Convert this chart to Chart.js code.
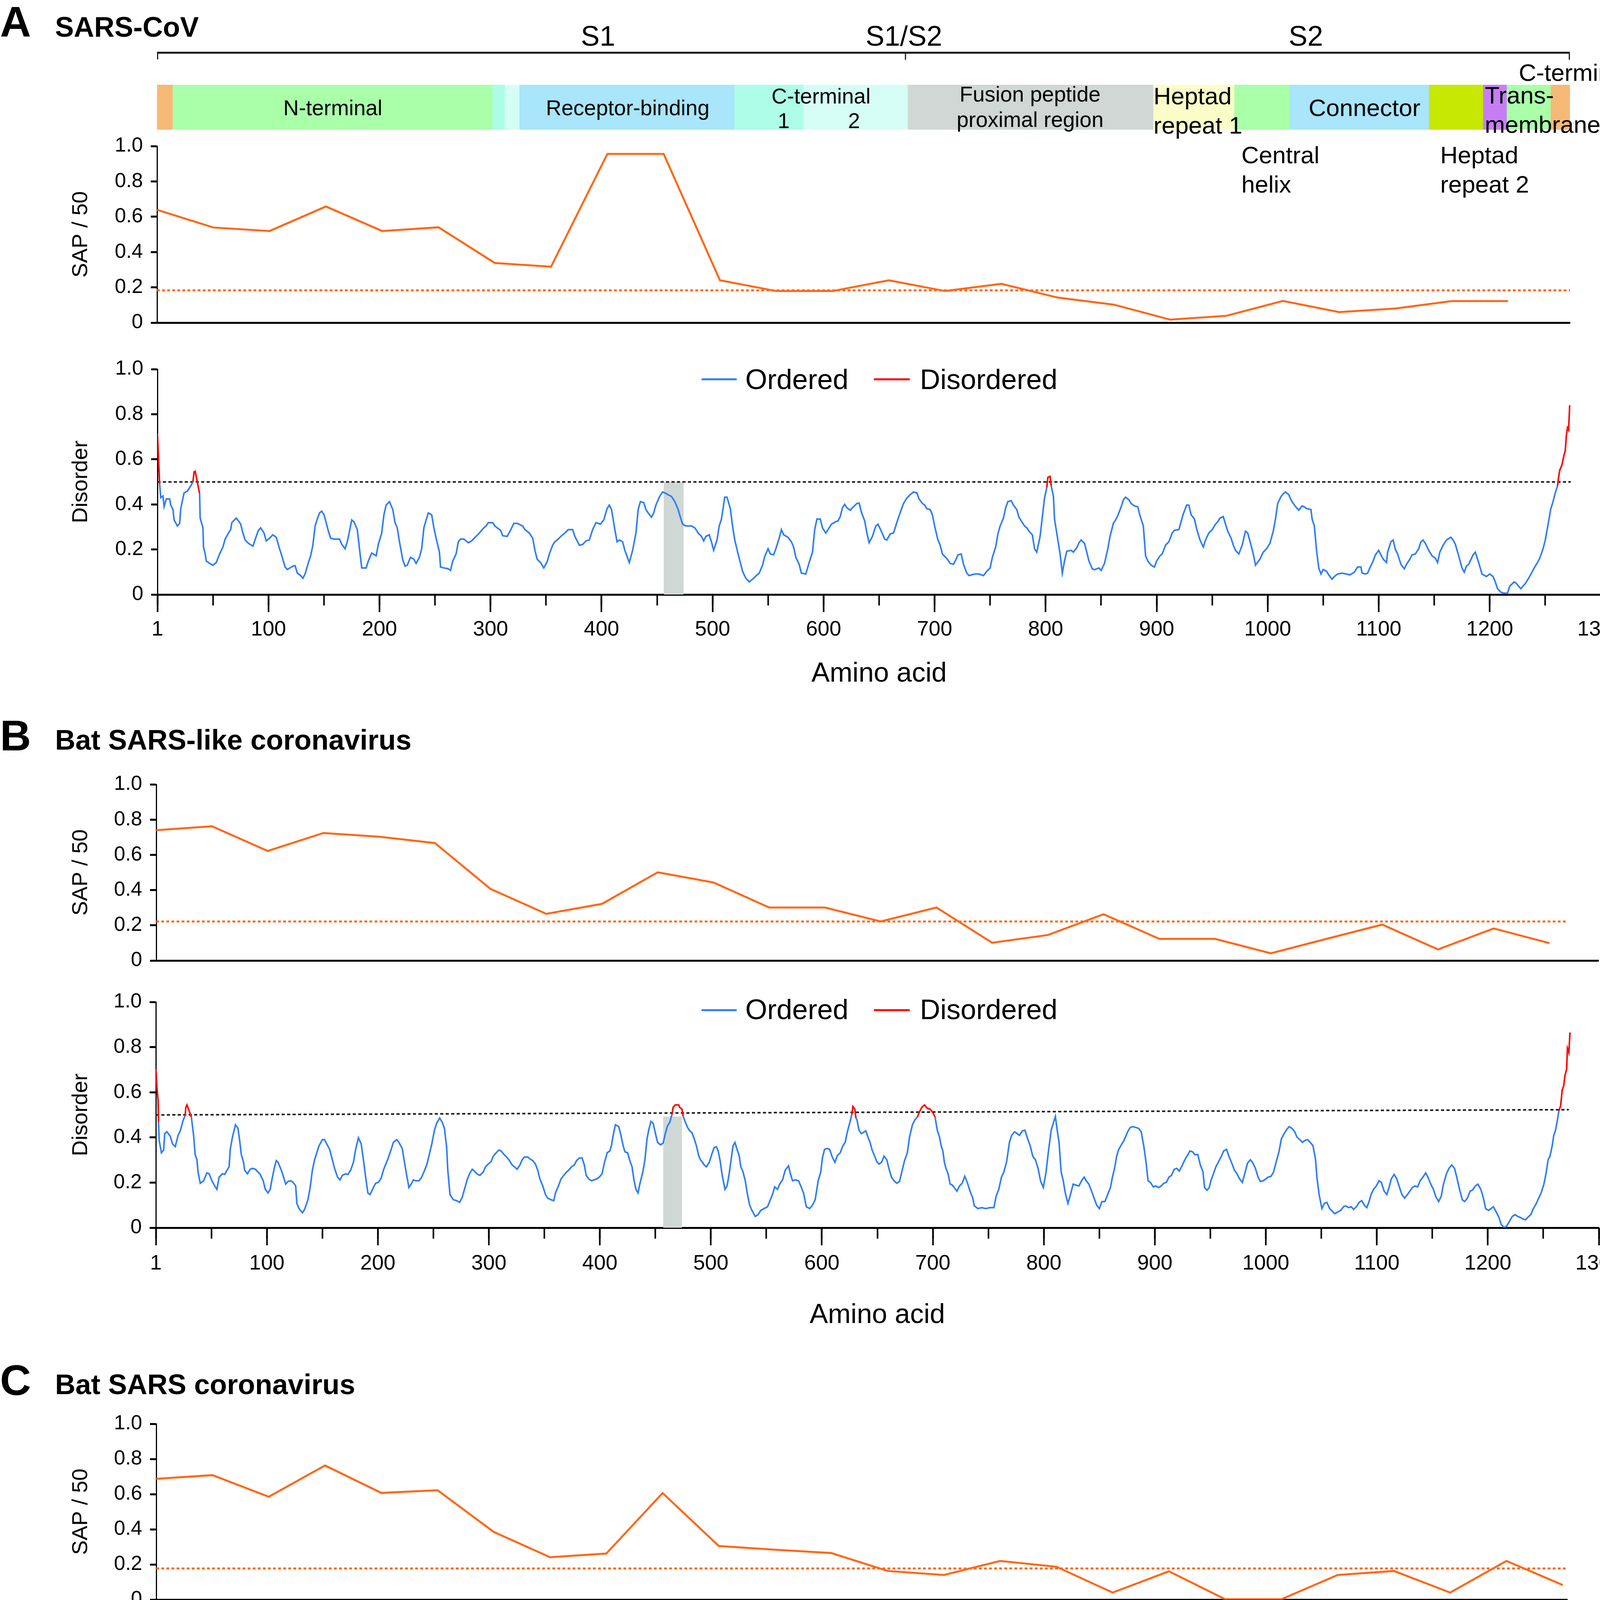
<!DOCTYPE html>
<html><head><meta charset="utf-8">
<script src="https://cdn.jsdelivr.net/npm/chart.js@4.4.1/dist/chart.umd.min.js"></script>
<style>
html,body{margin:0;padding:0;background:#fff;}
body{width:4180px;height:5009px;position:relative;overflow:hidden;font-family:"Liberation Sans",Arial,Helvetica,sans-serif;}
canvas{position:absolute;}
#ov{position:absolute;left:0;top:0;z-index:5;pointer-events:none;}
</style></head><body>
<canvas id="domains"></canvas>
<canvas id="sapA"></canvas>
<canvas id="disA"></canvas>
<canvas id="sapB"></canvas>
<canvas id="disB"></canvas>
<canvas id="sapC"></canvas>
<canvas id="disC"></canvas>
<svg id="ov" width="4180" height="5009" xmlns="http://www.w3.org/2000/svg" font-family="Liberation Sans, Arial, Helvetica, sans-serif" fill="#000">
  <line x1="402" y1="135" x2="4019" y2="135" stroke="#1a1a1a" stroke-width="5"/>
  <line x1="403.5" y1="135" x2="403.5" y2="152" stroke="#1a1a1a" stroke-width="3"/>
  <line x1="2318" y1="135" x2="2318" y2="153" stroke="#1a1a1a" stroke-width="3"/>
  <line x1="4017.5" y1="135" x2="4017.5" y2="153" stroke="#1a1a1a" stroke-width="3"/>
  <text x="1531" y="117" font-size="72" text-anchor="middle">S1</text>
  <text x="2314" y="117" font-size="72" text-anchor="middle">S1/S2</text>
  <text x="3343" y="117" font-size="72" text-anchor="middle">S2</text>

  <text x="0" y="93" font-size="110" font-weight="bold">A</text>
  <text x="141" y="94" font-size="72" font-weight="bold">SARS-CoV</text>
  <text x="0" y="1921" font-size="110" font-weight="bold">B</text>
  <text x="141" y="1919" font-size="72" font-weight="bold">Bat SARS-like coronavirus</text>
  <text x="0" y="3571" font-size="110" font-weight="bold">C</text>
  <text x="141" y="3569" font-size="72" font-weight="bold">Bat SARS coronavirus</text>

  <text x="852" y="295" font-size="55" text-anchor="middle">N-terminal</text>
  <text x="1607" y="295" font-size="55" text-anchor="middle">Receptor-binding</text>
  <text x="1975" y="265" font-size="55">C-terminal</text>
  <text x="1991" y="328" font-size="55">1</text>
  <text x="2171" y="328" font-size="55">2</text>
  <text x="2637" y="260" font-size="55" text-anchor="middle">Fusion peptide</text>
  <text x="2637" y="325" font-size="55" text-anchor="middle">proximal region</text>
  <text x="2953" y="267" font-size="62">Heptad</text>
  <text x="2953" y="342" font-size="62">repeat 1</text>
  <text x="3493" y="297" font-size="62" text-anchor="middle">Connector</text>
  <text x="3801" y="265" font-size="62">Trans-</text>
  <text x="3801" y="340" font-size="62">membrane</text>
  <text x="3888" y="207" font-size="62">C-terminal</text>
  <text x="3178" y="418" font-size="62">Central</text>
  <text x="3178" y="493" font-size="62">helix</text>
  <text x="3687" y="418" font-size="62">Heptad</text>
  <text x="3687" y="493" font-size="62">repeat 2</text>

  <rect x="1796" y="968.5" width="90" height="5" fill="#2f7ef5"/>
  <text x="1908" y="996" font-size="72">Ordered</text>
  <rect x="2237" y="968.5" width="92" height="5" fill="#ff0000"/>
  <text x="2355" y="996" font-size="72">Disordered</text>

  <rect x="1796" y="2583.5" width="90" height="5" fill="#2f7ef5"/>
  <text x="1908" y="2609" font-size="72">Ordered</text>
  <rect x="2237" y="2583.5" width="92" height="5" fill="#ff0000"/>
  <text x="2355" y="2609" font-size="72">Disordered</text>

  <rect x="1796" y="4247.5" width="90" height="5" fill="#2f7ef5"/>
  <text x="1908" y="4275" font-size="72">Ordered</text>
  <rect x="2237" y="4247.5" width="92" height="5" fill="#ff0000"/>
  <text x="2355" y="4275" font-size="72">Disordered</text>
</svg>
<script>
// ---------------- DATA ----------------
// Spike domain map (amino-acid boundaries) for panel A
const domainNames  = ['Signal','N-terminal','Linker a','Linker b','Receptor-binding','C-terminal 1','C-terminal 2','Fusion peptide proximal region','Heptad repeat 1','Central helix','Connector','Heptad repeat 2','Transmembrane a','Transmembrane b','C-terminal'];
const domainStart  = [0, 14, 298, 309, 322, 513, 574, 667, 885, 957, 1006, 1130, 1178, 1199, 1238];
const domainEnd    = [14, 298, 309, 322, 513, 574, 667, 885, 957, 1006, 1130, 1178, 1199, 1238, 1255];
const domainColors = ['#f6b975','#aaffa9','#acfde6','#d5fff5','#a9e5fb','#adfde8','#d5fdf5','#d0d7d5','#fafdc8','#aaffa9','#a9e5fb','#c6e802','#c67ef4','#aaffa9','#f6b975'];

// SAP / 50 windows (start residue of each 50-aa window)
const sapPosA = [0,50,100,150,200,250,300,350,400,450,500,550,600,650,700,750,800,850,900,950,1000,1050,1100,1150,1200];
const sapA    = [0.639,0.539,0.519,0.658,0.519,0.540,0.338,0.317,0.956,0.956,0.240,0.179,0.179,0.240,0.179,0.220,0.142,0.102,0.017,0.039,0.123,0.060,0.080,0.122,0.122];
const sapPosB = [0,50,100,150,200,250,300,350,400,450,500,550,600,650,700,750,800,850,900,950,1000,1050,1100,1150,1200,1250];
const sapB    = [0.740,0.762,0.622,0.724,0.703,0.667,0.406,0.265,0.322,0.501,0.443,0.301,0.301,0.222,0.301,0.101,0.145,0.263,0.123,0.123,0.041,0.123,0.204,0.063,0.182,0.099];
const sapPosC = [0,50,100,150,200,250,300,350,400,450,500,550,600,650,700,750,800,850,900,950,1000,1050,1100,1150,1200,1250];
const sapC    = [0.687,0.708,0.585,0.763,0.607,0.622,0.385,0.241,0.262,0.606,0.305,0.284,0.265,0.163,0.140,0.220,0.187,0.040,0.161,0.002,0.002,0.140,0.163,0.040,0.220,0.083];
const sapCutA = [[0,0.183],[1255,0.183]];
const sapCutB = [[0,0.222],[1266,0.222]];
const sapCutC = [[0,0.177],[1254,0.177]];
const sapMaxA = 1255, sapMaxB = 1294, sapMaxC = 1254;

// Disorder profiles [residue, score]
const disA = [[0,0.714],[2,0.49],[3,0.43],[5,0.437],[6,0.39],[8,0.424],[11,0.424],[12,0.397],[14,0.377],[15,0.331],[18,0.304],[20,0.316],[21,0.381],[24,0.451],[27,0.459],[30,0.482],[32,0.5],[33,0.544],[34,0.547],[36,0.497],[38,0.447],[38.5,0.339],[41,0.296],[41.5,0.211],[43,0.18],[44,0.149],[47,0.138],[50,0.13],[53,0.142],[56,0.18],[59,0.211],[61,0.246],[64,0.273],[66,0.288],[67,0.319],[71,0.339],[74,0.32],[75,0.312],[77,0.273],[79,0.242],[82,0.227],[86,0.215],[89,0.258],[91,0.285],[93,0.296],[96,0.273],[98,0.238],[101,0.25],[104,0.265],[107,0.254],[110,0.203],[112,0.172],[115,0.122],[117,0.111],[122,0.126],[124,0.128],[126,0.095],[129,0.084],[131,0.072],[133,0.091],[136,0.142],[138,0.172],[140,0.219],[142,0.304],[144,0.335],[146,0.362],[148,0.37],[150,0.354],[152,0.319],[154,0.281],[156,0.25],[159,0.246],[164,0.246],[166,0.223],[169,0.203],[171,0.234],[173,0.281],[175,0.331],[177,0.323],[180,0.288],[182,0.203],[184,0.118],[188,0.118],[190,0.149],[193,0.184],[197,0.172],[199,0.223],[202,0.273],[204,0.354],[206,0.397],[209,0.412],[212,0.377],[214,0.319],[216,0.296],[218,0.234],[221,0.153],[223,0.126],[225,0.13],[228,0.165],[231,0.157],[233,0.138],[236,0.165],[238,0.203],[240,0.296],[242,0.331],[244,0.362],[247,0.354],[249,0.296],[251,0.25],[254,0.188],[255,0.122],[258,0.118],[262,0.114],[264,0.107],[266,0.149],[269,0.18],[271,0.234],[273,0.246],[276,0.246],[280,0.23],[283,0.238],[287,0.258],[290,0.273],[294,0.296],[296,0.304],[298,0.319],[302,0.319],[304,0.304],[306,0.296],[309,0.285],[311,0.261],[315,0.258],[318,0.285],[321,0.316],[324,0.316],[329,0.304],[331,0.288],[335,0.273],[338,0.25],[340,0.196],[342,0.157],[345,0.142],[348,0.118],[351,0.145],[353,0.18],[356,0.219],[358,0.234],[361,0.246],[364,0.261],[367,0.273],[370,0.288],[374,0.288],[376,0.258],[380,0.219],[383,0.222],[386,0.238],[389,0.242],[392,0.288],[395,0.319],[399,0.312],[402,0.331],[405,0.381],[407,0.397],[409,0.377],[412,0.288],[414,0.234],[416,0.242],[419,0.234],[421,0.196],[425,0.142],[428,0.196],[431,0.273],[433,0.377],[435,0.412],[438,0.408],[440,0.377],[442,0.362],[445,0.343],[447,0.362],[449,0.397],[452,0.432],[455,0.455],[457,0.451],[460,0.443],[463,0.435],[466,0.412],[469,0.377],[471,0.343],[473,0.312],[476,0.304],[481,0.304],[484,0.296],[487,0.273],[490,0.258],[492,0.238],[494,0.258],[497,0.265],[499,0.234],[501,0.196],[504,0.242],[506,0.304],[508,0.335],[511,0.432],[513,0.432],[516,0.381],[518,0.304],[520,0.242],[523,0.18],[525,0.142],[527,0.103],[530,0.072],[533,0.056],[537,0.072],[540,0.087],[542,0.095],[545,0.13],[547,0.169],[550,0.203],[552,0.18],[555,0.176],[557,0.203],[560,0.25],[562,0.288],[564,0.265],[568,0.254],[571,0.234],[573,0.211],[575,0.165],[578,0.134],[580,0.095],[584,0.091],[587,0.142],[590,0.188],[592,0.288],[594,0.335],[597,0.335],[599,0.296],[602,0.273],[605,0.296],[607,0.312],[611,0.323],[613,0.327],[615,0.346],[617,0.385],[619,0.4],[621,0.385],[624,0.374],[626,0.385],[630,0.404],[632,0.406],[634,0.366],[637,0.327],[639,0.273],[641,0.23],[644,0.258],[647,0.304],[649,0.312],[652,0.281],[655,0.246],[657,0.242],[660,0.269],[663,0.273],[665,0.304],[667,0.335],[670,0.377],[672,0.404],[675,0.428],[678,0.443],[681,0.455],[684,0.451],[686,0.424],[689,0.404],[691,0.397],[693,0.381],[696,0.377],[698,0.354],[700,0.304],[703,0.242],[705,0.219],[707,0.18],[710,0.165],[712,0.153],[714,0.138],[717,0.134],[719,0.153],[721,0.176],[724,0.18],[726,0.134],[729,0.095],[731,0.084],[736,0.091],[740,0.091],[744,0.084],[747,0.103],[750,0.118],[752,0.165],[755,0.211],[757,0.269],[759,0.304],[762,0.339],[764,0.385],[766,0.412],[769,0.416],[771,0.397],[774,0.377],[776,0.343],[778,0.327],[781,0.304],[783,0.296],[785,0.281],[788,0.265],[790,0.203],[792,0.188],[795,0.258],[797,0.343],[799,0.428],[801,0.474],[802,0.52],[804,0.524],[805,0.482],[807,0.435],[808,0.335],[810,0.273],[813,0.18],[815,0.095],[817,0.149],[819,0.192],[823,0.196],[825,0.188],[828,0.207],[830,0.23],[832,0.242],[835,0.227],[837,0.188],[839,0.149],[842,0.114],[844,0.11],[848,0.118],[850,0.107],[853,0.138],[856,0.203],[858,0.258],[861,0.316],[863,0.331],[865,0.35],[868,0.389],[870,0.42],[872,0.432],[875,0.42],[877,0.404],[880,0.393],[883,0.389],[885,0.35],[888,0.304],[890,0.172],[892,0.149],[895,0.13],[898,0.122],[900,0.149],[903,0.172],[905,0.18],[908,0.219],[911,0.234],[914,0.273],[916,0.285],[920,0.288],[922,0.323],[924,0.358],[927,0.397],[929,0.397],[931,0.354],[934,0.335],[936,0.292],[939,0.242],[942,0.211],[944,0.242],[947,0.273],[950,0.288],[953,0.312],[955,0.323],[957,0.339],[960,0.346],[962,0.312],[964,0.281],[967,0.25],[969,0.219],[971,0.196],[974,0.18],[977,0.219],[980,0.281],[982,0.273],[985,0.219],[987,0.18],[989,0.13],[993,0.157],[996,0.188],[999,0.203],[1002,0.227],[1005,0.281],[1007,0.335],[1009,0.404],[1012,0.435],[1014,0.447],[1016,0.455],[1019,0.443],[1021,0.42],[1023,0.404],[1026,0.385],[1028,0.374],[1031,0.393],[1033,0.389],[1035,0.381],[1039,0.377],[1040,0.335],[1042,0.304],[1044,0.196],[1046,0.118],[1048,0.091],[1050,0.111],[1053,0.103],[1055,0.087],[1058,0.068],[1060,0.08],[1063,0.091],[1067,0.095],[1071,0.091],[1074,0.087],[1078,0.099],[1081,0.122],[1084,0.122],[1085,0.095],[1088,0.091],[1090,0.095],[1092,0.118],[1095,0.149],[1097,0.176],[1100,0.196],[1102,0.176],[1104,0.157],[1107,0.142],[1108,0.188],[1111,0.234],[1113,0.242],[1115,0.2],[1117,0.18],[1120,0.134],[1123,0.114],[1125,0.134],[1128,0.157],[1130,0.176],[1133,0.18],[1136,0.203],[1138,0.234],[1140,0.242],[1142,0.227],[1145,0.196],[1148,0.172],[1151,0.161],[1153,0.142],[1155,0.188],[1158,0.219],[1161,0.242],[1165,0.254],[1167,0.242],[1169,0.223],[1172,0.172],[1175,0.118],[1177,0.099],[1179,0.126],[1181,0.134],[1185,0.176],[1187,0.188],[1190,0.142],[1193,0.091],[1197,0.08],[1200,0.091],[1203,0.08],[1205,0.056],[1207,0.026],[1210,0.01],[1213,0.006],[1216,0.006],[1218,0.037],[1222,0.056],[1224,0.049],[1226,0.037],[1228,0.026],[1232,0.049],[1235,0.072],[1238,0.099],[1240,0.118],[1243,0.142],[1245,0.161],[1248,0.203],[1250,0.242],[1252,0.296],[1255,0.381],[1257,0.412],[1259,0.451],[1261,0.482],[1262,0.52],[1263,0.551],[1265,0.575],[1267,0.621],[1268,0.637],[1269,0.706],[1270,0.74],[1271,0.73],[1272,0.84]];

const disB = [[0,0.703],[1,0.62],[2,0.564],[2.4,0.467],[3,0.386],[5,0.332],[7,0.344],[8,0.417],[10,0.425],[13,0.405],[15,0.371],[17.5,0.359],[20,0.409],[22,0.429],[24.5,0.475],[26.4,0.498],[27,0.533],[28,0.544],[30,0.517],[32,0.49],[33,0.448],[34,0.409],[35.4,0.324],[37,0.301],[38,0.247],[40,0.197],[43,0.208],[46,0.243],[48,0.239],[50.5,0.208],[53,0.185],[55,0.17],[57,0.224],[60,0.239],[62,0.236],[64.6,0.259],[66,0.27],[67,0.347],[69,0.401],[71.7,0.456],[74,0.44],[75.5,0.386],[77,0.324],[79,0.29],[80,0.255],[82.5,0.239],[85,0.259],[87,0.263],[89.6,0.259],[92,0.247],[94,0.236],[96.7,0.208],[98.6,0.17],[101,0.154],[103,0.17],[104.7,0.216],[107,0.27],[108.5,0.297],[110,0.29],[112.7,0.259],[114.6,0.232],[117,0.193],[119,0.205],[121.7,0.208],[123.6,0.201],[126,0.185],[127,0.108],[129,0.085],[132,0.066],[134,0.081],[137,0.124],[139,0.178],[141,0.255],[143,0.301],[145,0.332],[147,0.363],[150,0.39],[152,0.39],[154,0.371],[156.6,0.347],[159,0.301],[161,0.263],[163.7,0.224],[166,0.212],[168,0.232],[171,0.239],[173,0.236],[175.5,0.255],[178,0.29],[180,0.347],[182.5,0.398],[185,0.371],[187,0.301],[189,0.224],[191,0.154],[193,0.147],[196,0.178],[198,0.197],[200.5,0.201],[203,0.22],[205,0.255],[207.5,0.286],[209.4,0.309],[212,0.347],[214,0.378],[217,0.39],[219,0.378],[222,0.351],[223.6,0.301],[226,0.232],[228,0.178],[230,0.193],[232,0.212],[234,0.208],[237,0.208],[239,0.22],[241.5,0.247],[244,0.278],[246,0.317],[248.6,0.371],[251,0.432],[253,0.463],[255.7,0.486],[258,0.467],[260,0.44],[262,0.355],[263,0.255],[265,0.147],[268,0.124],[271,0.12],[273.6,0.112],[276,0.135],[278,0.17],[280.7,0.216],[283,0.243],[285,0.259],[287.7,0.247],[290,0.236],[292,0.232],[295,0.247],[297,0.27],[299.5,0.282],[302,0.293],[304,0.317],[306.6,0.332],[309,0.344],[311,0.34],[313.7,0.324],[316,0.313],[318,0.301],[321,0.278],[323,0.27],[325.5,0.259],[328,0.278],[330,0.301],[332,0.313],[335,0.313],[337,0.305],[339.6,0.297],[342,0.282],[344,0.255],[346,0.216],[348.6,0.185],[351,0.147],[353,0.131],[356,0.124],[358.5,0.12],[360,0.154],[362.7,0.185],[365,0.216],[367.5,0.232],[370,0.247],[372,0.255],[374.5,0.27],[377,0.278],[379,0.297],[381.6,0.309],[384,0.309],[386,0.278],[387.7,0.232],[390,0.216],[392.5,0.208],[395,0.212],[397,0.216],[399.5,0.224],[402,0.239],[404,0.286],[406.6,0.332],[409,0.34],[410.4,0.363],[412,0.409],[414,0.456],[417,0.448],[419,0.409],[421,0.363],[422.6,0.336],[425,0.332],[427,0.297],[429,0.27],[430.7,0.212],[432.5,0.17],[434.4,0.154],[436,0.193],[438.7,0.247],[440.6,0.301],[442.5,0.394],[444,0.432],[446,0.471],[448,0.463],[450.5,0.409],[452,0.378],[454.7,0.367],[457,0.375],[459,0.417],[461,0.452],[463,0.467],[465,0.502],[466,0.533],[468,0.544],[471,0.544],[472,0.533],[474,0.525],[475,0.494],[477.4,0.463],[479,0.444],[481,0.429],[483,0.421],[485,0.394],[487,0.363],[489,0.32],[490.6,0.301],[492.5,0.29],[494,0.278],[496,0.27],[498.6,0.29],[501,0.328],[503,0.355],[505,0.359],[506.6,0.34],[508.5,0.293],[510,0.239],[512.7,0.17],[514.6,0.185],[516.5,0.239],[518,0.293],[520,0.363],[521.7,0.378],[523.6,0.347],[525.5,0.32],[527,0.27],[529,0.247],[531,0.208],[533,0.147],[535,0.1],[537,0.077],[540,0.05],[542.5,0.058],[545,0.077],[548,0.085],[551,0.093],[553,0.116],[556,0.154],[557.5,0.181],[560,0.17],[562,0.193],[564.6,0.212],[567,0.255],[570,0.274],[571.7,0.239],[573.6,0.208],[576,0.212],[579,0.208],[581,0.185],[583.5,0.154],[586,0.093],[589,0.085],[591.5,0.1],[594,0.124],[596.7,0.208],[599,0.247],[600.5,0.309],[602.4,0.347],[604.7,0.351],[607,0.347],[609.4,0.313],[611.8,0.29],[614,0.32],[616.5,0.332],[619,0.363],[621,0.378],[623,0.425],[625.5,0.471],[627,0.502],[628,0.537],[629.7,0.525],[630.7,0.486],[631.6,0.479],[633.5,0.432],[635.4,0.417],[637,0.421],[639.6,0.429],[641.5,0.402],[643.4,0.378],[645.3,0.344],[647.6,0.317],[649.5,0.293],[651.4,0.282],[653.8,0.29],[656,0.317],[658.5,0.301],[660.4,0.263],[662.7,0.224],[665,0.208],[667.5,0.197],[670,0.205],[672,0.247],[674.5,0.297],[677,0.332],[679,0.402],[681.6,0.456],[684,0.479],[686,0.49],[688,0.514],[690,0.533],[692.5,0.544],[695,0.529],[697.6,0.525],[700,0.51],[702,0.49],[704,0.432],[706,0.402],[707.5,0.363],[709,0.34],[710.4,0.29],[711.8,0.263],[713.7,0.239],[715.6,0.193],[717.5,0.189],[719.3,0.178],[721.7,0.162],[724,0.185],[726.4,0.197],[728.8,0.228],[731,0.201],[733.5,0.162],[736,0.131],[737.3,0.097],[740.6,0.085],[744,0.089],[747.6,0.085],[751.4,0.089],[755,0.089],[757,0.139],[759.4,0.17],[761.8,0.224],[764,0.247],[766.5,0.293],[769,0.378],[771,0.409],[773.6,0.425],[776,0.417],[778,0.409],[780.7,0.429],[783,0.432],[785.4,0.394],[787.7,0.363],[790,0.317],[792.4,0.301],[794.8,0.263],[797,0.208],[799.5,0.178],[802,0.247],[804,0.332],[806.6,0.432],[809,0.471],[810.4,0.493],[811.8,0.44],[813.7,0.378],[815.6,0.247],[817.5,0.208],[819.3,0.154],[821.7,0.108],[824,0.147],[826.4,0.193],[828.8,0.189],[831.6,0.185],[834,0.208],[836.3,0.224],[838.2,0.208],[840.6,0.193],[843,0.162],[845.3,0.131],[847.6,0.1],[850,0.085],[852.4,0.116],[855,0.116],[857.5,0.147],[860,0.178],[861.8,0.224],[863.7,0.263],[865.6,0.317],[867.5,0.347],[869.3,0.363],[871.7,0.382],[873.6,0.402],[875.5,0.425],[877.8,0.444],[880,0.448],[883,0.444],[885.4,0.44],[887.7,0.425],[890,0.363],[892,0.293],[893.9,0.208],[896,0.201],[898.6,0.181],[901,0.185],[903.3,0.178],[905.7,0.185],[908,0.197],[910.4,0.201],[912.7,0.224],[915,0.232],[917.5,0.259],[919.8,0.263],[922,0.251],[924.5,0.274],[927,0.301],[929,0.317],[931.6,0.34],[934,0.336],[936,0.324],[938.7,0.324],[941,0.278],[943.4,0.247],[944.8,0.178],[947,0.166],[949,0.178],[950.5,0.208],[952.8,0.239],[955,0.27],[957.5,0.293],[960,0.317],[962,0.34],[964.6,0.347],[967,0.313],[969,0.29],[971.7,0.255],[974,0.239],[976.4,0.216],[978.8,0.201],[981,0.239],[983.5,0.286],[986,0.301],[988,0.29],[990.6,0.263],[993,0.224],[995,0.205],[997.6,0.208],[1000,0.216],[1002,0.224],[1004.7,0.228],[1007,0.247],[1009.4,0.293],[1011.8,0.336],[1014,0.394],[1016.5,0.417],[1019,0.436],[1021,0.448],[1023.6,0.44],[1026,0.425],[1028,0.402],[1030.7,0.39],[1033,0.378],[1035,0.386],[1037.7,0.39],[1040,0.378],[1042.5,0.363],[1044.8,0.301],[1046,0.224],[1048,0.147],[1050.5,0.085],[1052.8,0.108],[1055,0.112],[1057.5,0.085],[1060,0.073],[1062,0.062],[1065,0.07],[1067.5,0.077],[1070,0.093],[1072,0.097],[1074.5,0.089],[1077,0.093],[1079,0.081],[1081.6,0.093],[1084,0.112],[1086.4,0.12],[1088.7,0.1],[1091,0.089],[1093,0.116],[1094.8,0.147],[1097,0.17],[1099.5,0.185],[1102,0.208],[1104,0.201],[1106.6,0.162],[1109,0.147],[1111,0.178],[1113,0.216],[1115.6,0.236],[1118,0.216],[1120,0.185],[1122.6,0.147],[1125,0.131],[1127,0.143],[1129.7,0.162],[1132,0.178],[1134.4,0.185],[1136.8,0.181],[1139,0.208],[1141.5,0.224],[1144,0.243],[1146,0.224],[1148.6,0.193],[1151,0.17],[1153,0.139],[1155.7,0.116],[1158,0.139],[1160,0.193],[1162.7,0.239],[1165,0.263],[1167.5,0.278],[1170,0.263],[1172,0.224],[1174.5,0.17],[1177,0.124],[1179,0.116],[1181.6,0.131],[1184,0.162],[1186,0.166],[1188.7,0.185],[1191,0.193],[1193.7,0.17],[1196,0.131],[1198,0.085],[1200.5,0.077],[1203,0.085],[1205,0.093],[1207.5,0.07],[1210,0.046],[1212,0.015],[1215,0.0],[1217,0.008],[1219.8,0.031],[1222,0.05],[1224.5,0.058],[1227,0.05],[1229,0.046],[1231.6,0.039],[1234,0.035],[1236,0.046],[1238.7,0.058],[1241,0.085],[1243.4,0.104],[1245.8,0.131],[1248,0.154],[1250.5,0.193],[1252.4,0.239],[1254.3,0.301],[1256,0.317],[1258,0.363],[1259.4,0.409],[1261,0.432],[1263,0.486],[1264,0.517],[1265.6,0.541],[1267,0.61],[1268.4,0.629],[1269.4,0.672],[1271,0.703],[1271.7,0.795],[1273,0.776],[1274,0.865]];

const disC = [[0,0.851],[2,0.724],[3.3,0.608],[4.7,0.515],[5.7,0.476],[6.6,0.523],[7,0.461],[7.5,0.453],[8.5,0.484],[10.4,0.48],[12,0.461],[13.7,0.438],[16,0.407],[17.5,0.384],[19,0.372],[21,0.411],[23.6,0.434],[25.5,0.449],[27.4,0.43],[29,0.419],[31,0.407],[33.5,0.415],[35.4,0.411],[37,0.376],[38,0.353],[39.6,0.307],[41,0.276],[42.5,0.237],[44.3,0.175],[46,0.141],[48,0.16],[50.5,0.191],[53,0.21],[55,0.214],[57.5,0.229],[60,0.241],[62,0.268],[64,0.314],[66,0.326],[68.4,0.337],[70.8,0.326],[73,0.295],[75,0.253],[77.4,0.229],[79,0.21],[81.6,0.198],[84,0.225],[86.8,0.229],[89.6,0.233],[92,0.268],[94.3,0.287],[96.7,0.283],[99,0.229],[101.4,0.198],[103.8,0.225],[106,0.253],[108,0.268],[110,0.245],[111.8,0.191],[114,0.144],[116.5,0.125],[119,0.121],[121.7,0.117],[124,0.121],[126,0.094],[128,0.083],[130.7,0.071],[133,0.067],[135.4,0.083],[137.7,0.094],[139.6,0.144],[141.5,0.175],[143,0.229],[144.8,0.283],[146.7,0.326],[148.6,0.334],[150.5,0.291],[152.8,0.268],[155,0.253],[157.5,0.229],[160,0.214],[162,0.218],[164.6,0.229],[167,0.233],[169,0.222],[171.7,0.245],[173.6,0.307],[175.5,0.361],[177.8,0.368],[180,0.33],[182,0.268],[184,0.16],[186,0.137],[188,0.133],[190.5,0.16],[193,0.198],[195,0.222],[197.6,0.214],[200,0.229],[202,0.253],[204.7,0.283],[207,0.307],[209.4,0.326],[211.8,0.334],[214,0.326],[216.5,0.299],[219,0.26],[220.7,0.206],[222.6,0.175],[225,0.168],[227.4,0.202],[229.7,0.245],[232,0.225],[234.4,0.218],[236.8,0.229],[239,0.253],[240.6,0.307],[242.5,0.337],[244.8,0.361],[247,0.368],[249,0.353],[251,0.307],[253.3,0.253],[255.7,0.198],[257.5,0.133],[260,0.125],[262.7,0.114],[265,0.106],[267.5,0.137],[270,0.168],[272,0.214],[274.5,0.237],[276.4,0.253],[279,0.245],[281,0.237],[283.5,0.245],[285.8,0.26],[288.7,0.28],[291,0.287],[293.4,0.283],[295.8,0.307],[298,0.322],[300.5,0.33],[302.8,0.314],[305,0.299],[307.5,0.295],[310,0.287],[312,0.276],[314.6,0.268],[317,0.276],[319.3,0.291],[321.7,0.314],[324,0.318],[326.4,0.314],[328.8,0.31],[331,0.314],[333.5,0.303],[336,0.276],[338,0.237],[340.6,0.191],[342,0.137],[344,0.129],[346.7,0.125],[349,0.121],[351.4,0.125],[353.8,0.16],[356,0.195],[358.5,0.222],[361,0.237],[363,0.245],[365.6,0.26],[368,0.272],[370,0.283],[372.6,0.291],[375,0.299],[377.4,0.287],[379.7,0.253],[382,0.21],[384.4,0.206],[386.8,0.222],[389,0.229],[391.5,0.245],[394,0.26],[396,0.283],[398,0.31],[400.5,0.303],[402.8,0.322],[404.7,0.353],[406.6,0.384],[409,0.376],[411,0.314],[413,0.268],[415,0.214],[417.5,0.229],[420,0.253],[422,0.229],[424,0.191],[426,0.152],[428,0.144],[430,0.175],[432,0.214],[434,0.314],[436,0.376],[438,0.411],[440.6,0.403],[442.5,0.368],[444.3,0.349],[446,0.341],[448,0.376],[450,0.415],[452,0.449],[453.8,0.473],[456,0.492],[458.5,0.49],[459,0.505],[459.4,0.515],[460,0.488],[461.3,0.48],[463,0.473],[465.6,0.465],[468,0.473],[470,0.457],[472.6,0.453],[475,0.43],[477.4,0.399],[479,0.368],[481,0.345],[483,0.33],[485,0.307],[487,0.28],[489,0.268],[490.6,0.272],[492.5,0.283],[494,0.299],[496,0.31],[498,0.283],[500,0.229],[502,0.183],[504,0.125],[505.7,0.175],[507.5,0.229],[509.4,0.283],[511,0.353],[513,0.372],[515,0.345],[517,0.307],[519,0.268],[521,0.229],[523.6,0.198],[525.5,0.144],[527,0.098],[529,0.083],[531.6,0.071],[534,0.067],[536,0.079],[538.7,0.086],[541.5,0.102],[544,0.11],[546.7,0.137],[548.6,0.16],[550.5,0.195],[553,0.191],[555,0.16],[557.5,0.183],[560,0.229],[562,0.283],[564.6,0.276],[567,0.253],[569,0.249],[572,0.237],[574,0.214],[576.4,0.179],[578.8,0.125],[581,0.098],[583.5,0.086],[586,0.106],[588,0.144],[590.6,0.198],[593,0.276],[595.3,0.326],[597.6,0.353],[599,0.355],[600,0.323],[602,0.288],[603.8,0.269],[606,0.284],[608.5,0.319],[610.8,0.33],[613,0.342],[615.6,0.358],[618,0.415],[620,0.439],[622.6,0.45],[625,0.423],[627.3,0.4],[629.7,0.408],[632,0.412],[634.4,0.392],[636.8,0.35],[639,0.307],[641.5,0.261],[643.8,0.222],[646,0.246],[648.5,0.269],[651,0.288],[653,0.261],[655.6,0.242],[658,0.246],[660,0.257],[662.7,0.261],[665,0.276],[667.4,0.307],[669.7,0.361],[672,0.392],[674.5,0.415],[676.8,0.439],[679,0.454],[681.5,0.462],[684,0.462],[686,0.45],[688.6,0.415],[691,0.385],[693,0.381],[695.7,0.385],[698,0.377],[700.4,0.354],[702.7,0.315],[705,0.269],[707.4,0.215],[709.8,0.172],[712,0.157],[714.5,0.149],[716.9,0.134],[719,0.142],[721.6,0.153],[724,0.172],[726.3,0.137],[728.6,0.11],[731,0.091],[733.4,0.08],[736,0.087],[739,0.083],[742,0.08],[744.7,0.083],[747.5,0.091],[750,0.099],[752,0.122],[754,0.168],[756,0.192],[758,0.246],[759.8,0.284],[761.6,0.307],[764,0.377],[766.4,0.423],[768.7,0.45],[771,0.454],[773.4,0.431],[775.8,0.415],[778,0.4],[780.5,0.369],[782.8,0.346],[785,0.33],[787.6,0.319],[790,0.315],[792,0.269],[794.6,0.261],[797,0.284],[798.4,0.346],[800,0.446],[801,0.485],[802,0.524],[804,0.558],[805.5,0.531],[806.4,0.481],[807.4,0.462],[808.8,0.369],[810,0.307],[811.6,0.246],[813.5,0.153],[815.8,0.099],[818,0.095],[820,0.161],[822,0.199],[824,0.195],[826,0.207],[828.6,0.23],[831,0.253],[833,0.246],[835.6,0.215],[838,0.192],[840,0.153],[842.7,0.122],[845,0.103],[847.4,0.107],[850,0.107],[852,0.099],[854.5,0.122],[857,0.168],[858.7,0.215],[860.6,0.253],[863,0.307],[865.3,0.346],[867.7,0.377],[870,0.408],[872.4,0.423],[874.7,0.431],[877,0.415],[879.5,0.4],[881.8,0.396],[884,0.385],[886.5,0.346],[889,0.276],[891,0.215],[893.6,0.161],[896,0.145],[898.3,0.137],[900.7,0.134],[903,0.161],[905.4,0.176],[907.7,0.199],[910,0.215],[912.4,0.238],[914.8,0.276],[917,0.288],[919.5,0.307],[921.8,0.334],[924,0.346],[926.6,0.377],[929,0.396],[931.3,0.385],[933.6,0.354],[936,0.323],[938.4,0.276],[940.7,0.23],[943,0.215],[945.4,0.246],[947.8,0.276],[950,0.292],[952.5,0.303],[954.8,0.315],[957,0.334],[959.6,0.354],[962,0.338],[964.3,0.307],[966.6,0.276],[969,0.253],[971.4,0.222],[973.7,0.199],[976,0.176],[978.4,0.207],[980.8,0.246],[982,0.292],[984,0.253],[986,0.215],[988,0.184],[990,0.168],[992,0.145],[994,0.168],[996,0.192],[998.7,0.207],[1001,0.215],[1003.4,0.23],[1005.7,0.269],[1007.6,0.323],[1009.5,0.369],[1011.4,0.408],[1013.7,0.439],[1016,0.446],[1018.5,0.454],[1021,0.439],[1023,0.415],[1025.5,0.392],[1028,0.377],[1030,0.373],[1032.6,0.385],[1035,0.381],[1037.3,0.369],[1039.7,0.33],[1042,0.269],[1044.4,0.176],[1046.7,0.099],[1049,0.091],[1051.5,0.095],[1053.8,0.087],[1056,0.076],[1058.5,0.064],[1061,0.072],[1063,0.083],[1065.6,0.091],[1068,0.095],[1070.3,0.091],[1072.7,0.091],[1075,0.087],[1077.5,0.099],[1080,0.122],[1082,0.137],[1084.6,0.114],[1087,0.091],[1089,0.107],[1091.5,0.137],[1094,0.161],[1096,0.176],[1098.6,0.192],[1101,0.207],[1103,0.184],[1105.5,0.153],[1108,0.176],[1110,0.215],[1112.6,0.246],[1115,0.23],[1117.4,0.199],[1119.7,0.176],[1122,0.145],[1124.5,0.13],[1127,0.145],[1129,0.176],[1131.6,0.18],[1134,0.184],[1136.3,0.199],[1138.6,0.215],[1141,0.23],[1143.3,0.215],[1145.7,0.199],[1148,0.18],[1150.4,0.168],[1152.8,0.145],[1155,0.161],[1157.5,0.199],[1160,0.253],[1162,0.261],[1164.6,0.265],[1167,0.246],[1169.3,0.207],[1171.7,0.168],[1174,0.145],[1176.5,0.114],[1179,0.107],[1181,0.122],[1183.4,0.145],[1185.7,0.168],[1188,0.176],[1190.5,0.168],[1193,0.099],[1195,0.083],[1197.6,0.076],[1200,0.087],[1202,0.091],[1204.6,0.072],[1207,0.045],[1209,0.014],[1211.7,0.002],[1214,0.002],[1216.4,0.018],[1218.8,0.041],[1221,0.053],[1223.5,0.056],[1226,0.045],[1228,0.037],[1230.6,0.029],[1233,0.033],[1235,0.045],[1237.6,0.068],[1240,0.091],[1242.3,0.114],[1244.7,0.137],[1247,0.168],[1249.4,0.207],[1251.7,0.253],[1254,0.307],[1255.5,0.354],[1257.4,0.408],[1259.3,0.469],[1261,0.516],[1262.6,0.562],[1264.5,0.609],[1266.4,0.655],[1268,0.724],[1269.6,0.751],[1271,0.786],[1273,0.859]];

// Residue ranges predicted disordered (drawn red)
const disorderedA = [[0,2],[32,38],[801,805],[1261,1272]];
const disorderedB = [[0,2.4],[26.4,32],[465,475],[627,630.7],[686,702],[1264,1274]];
const disorderedC = [[0,7],[458.5,460],[801,806.4],[1259.3,1273]];
// Disorder cut-off line end points
const cutoffA = [[0,0.4996],[1273,0.4996]];
const cutoffB = [[0,0.4996],[1273,0.5228]];
const cutoffC = [[0,0.498],[1273,0.523]];
// Highlighted (grey) region [start, end, height]
const bandA = [456, 474, 0.499];
const bandB = [457, 474, 0.4927];
const bandC = [457, 474, 0.498];

// ---------------- STYLE / LAYOUT ----------------
const FONT = '"Liberation Sans", Arial, Helvetica, sans-serif';
Chart.defaults.font.family = FONT;
Chart.defaults.color = '#000';
const BLUE = '#2f7ef5', RED = '#ff0000', ORANGE = '#ff6614', BAND = '#d0d8d6';
const YW = 300, PAD_TOP = 60, PAD_RIGHT = 100, SAP_XH = 60;

function setupCanvas(id, area, xH) {
  const c = document.getElementById(id);
  const w = Math.round(area.right - area.left + YW + PAD_RIGHT);
  const h = Math.round(area.bottom - area.top + PAD_TOP + xH);
  c.width = w; c.height = h;
  c.style.width = w + 'px'; c.style.height = h + 'px';
  c.style.left = (area.left - YW) + 'px';
  c.style.top = (area.top - PAD_TOP) + 'px';
  return c;
}
function yAxis(title, area) {
  return {
    type: 'linear', position: 'left', min: 0, max: 1,
    afterFit: s => { s.width = YW; },
    ticks: { stepSize: 0.2, color: '#000', font: { size: 52 }, padding: 20,
             callback: v => (v === 0 ? '0' : v.toFixed(1)) },
    grid: { display: true, drawOnChartArea: false, drawTicks: true, tickLength: 16, tickWidth: 5, tickColor: '#000' },
    border: { display: true, color: '#000', width: 3 },
    title: { display: true, text: title, color: '#000', font: { size: 56 },
             padding: { top: 208 - (area.left - YW) - 33.6, bottom: 0 } }
  };
}
const baseOpts = (scales) => ({
  responsive: false, maintainAspectRatio: false, animation: false, events: [],
  layout: { padding: { top: PAD_TOP, right: PAD_RIGHT, left: 0, bottom: 0 } },
  plugins: { legend: { display: false }, tooltip: { enabled: false } },
  scales
});

function sapChart(id, area, xMax, pos, vals, cut) {
  const c = setupCanvas(id, area, SAP_XH);
  new Chart(c, {
    type: 'line',
    data: { datasets: [
      { data: pos.map((x, i) => ({ x, y: vals[i] })), borderColor: ORANGE, borderWidth: 5,
        pointRadius: 0, order: 1 },
      { data: cut.map(p => ({ x: p[0], y: p[1] })), borderColor: ORANGE, borderWidth: 5,
        borderDash: [7, 6], pointRadius: 0, order: 2 }
    ]},
    options: baseOpts({
      x: { type: 'linear', position: 'bottom', min: 0, max: xMax,
           afterFit: s => { s.height = SAP_XH; },
           ticks: { display: false }, grid: { display: false },
           border: { display: true, color: '#000', width: 5 } },
      y: yAxis('SAP / 50', area)
    })
  });
}

function inRanges(x0, x1, ranges) {
  return ranges.some(r => x0 >= r[0] - 1e-9 && x1 <= r[1] + 1e-9);
}

function disorderChart(id, area, xH, labelPad, pts, ranges, cut, band) {
  const c = setupCanvas(id, area, xH);
  new Chart(c, {
    type: 'line',
    data: { datasets: [
      { data: pts.map(p => ({ x: p[0], y: p[1] })), xAxisID: 'x', borderColor: BLUE, borderWidth: 4,
        pointRadius: 0, order: 1,
        segment: { borderColor: s => (inRanges(s.p0.parsed.x, s.p1.parsed.x, ranges) ? RED : BLUE) } },
      { data: cut.map(p => ({ x: p[0], y: p[1] })), xAxisID: 'x', borderColor: '#1a1a1a', borderWidth: 4,
        borderDash: [8, 6], pointRadius: 0, order: 2 },
      { data: [{ x: band[0], y: band[2] }, { x: band[1], y: band[2] }], xAxisID: 'x',
        borderWidth: 0, borderColor: 'rgba(0,0,0,0)', backgroundColor: BAND, fill: 'origin',
        pointRadius: 0, order: 3 }
    ]},
    options: baseOpts({
      x: { type: 'linear', position: 'bottom', min: 0, max: 1300, weight: 1,
           afterFit: s => { s.height = xH; },
           ticks: { stepSize: 100, autoSkip: false, maxRotation: 0, color: '#000', font: { size: 54 },
                    padding: labelPad, callback: v => (v === 0 ? '1' : String(v)) },
           grid: { display: true, drawOnChartArea: false, drawTicks: true, tickLength: 45, tickWidth: 4, tickColor: '#000' },
           border: { display: true, color: '#000', width: 5 },
           title: { display: true, text: 'Amino acid', color: '#000', font: { size: 70 }, padding: { top: 0, bottom: 0 } } },
      xMinor: { type: 'linear', position: 'bottom', axis: 'x', min: 0, max: 1300, weight: 0,
           afterFit: s => { s.height = 0; },
           ticks: { stepSize: 50, display: false },
           grid: { display: true, drawOnChartArea: false, drawTicks: true, tickLength: 28, tickWidth: 4, tickColor: '#000' },
           border: { display: false } },
      y: yAxis('Disorder', area)
    })
  });
}

// Domain map (floating horizontal bars)
(function () {
  const area = { left: 402, top: 217, right: 4019, bottom: 332 };
  const c = document.getElementById('domains');
  const w = area.right - area.left, h = area.bottom - area.top;
  c.width = w; c.height = h; c.style.width = w + 'px'; c.style.height = h + 'px';
  c.style.left = area.left + 'px'; c.style.top = area.top + 'px';
  new Chart(c, {
    type: 'bar',
    data: { labels: ['Spike'], datasets: [{
      label: 'Domains',
      data: domainStart.map((s, i) => ({ x: [s, domainEnd[i]], y: 'Spike' })),
      backgroundColor: domainColors, borderWidth: 0, barThickness: h, grouped: false
    }]},
    options: {
      indexAxis: 'y', responsive: false, animation: false, events: [],
      layout: { padding: 0 },
      plugins: { legend: { display: false }, tooltip: { enabled: false } },
      scales: {
        x: { type: 'linear', min: 0, max: 1255, display: false },
        y: { type: 'category', labels: ['Spike'], display: false }
      }
    }
  });
})();

sapChart('sapA', { left: 402, top: 374, right: 4019, bottom: 826 }, sapMaxA, sapPosA, sapA, sapCutA);
sapChart('sapB', { left: 400, top: 2008, right: 4092, bottom: 2459 }, sapMaxB, sapPosB, sapB, sapCutB);
sapChart('sapC', { left: 400, top: 3645, right: 4012, bottom: 4095 }, sapMaxC, sapPosC, sapC, sapCutC);

disorderChart('disA', { left: 403, top: 945, right: 4098, bottom: 1522 }, 246, 13, disA, disorderedA, cutoffA, bandA);
disorderChart('disB', { left: 399, top: 2565, right: 4093, bottom: 3143 }, 267, 15, disB, disorderedB, cutoffB, bandB);
disorderChart('disC', { left: 399, top: 4198, right: 4093, bottom: 4776 }, 235, 15, disC, disorderedC, cutoffC, bandC);
</script>
</body></html>
